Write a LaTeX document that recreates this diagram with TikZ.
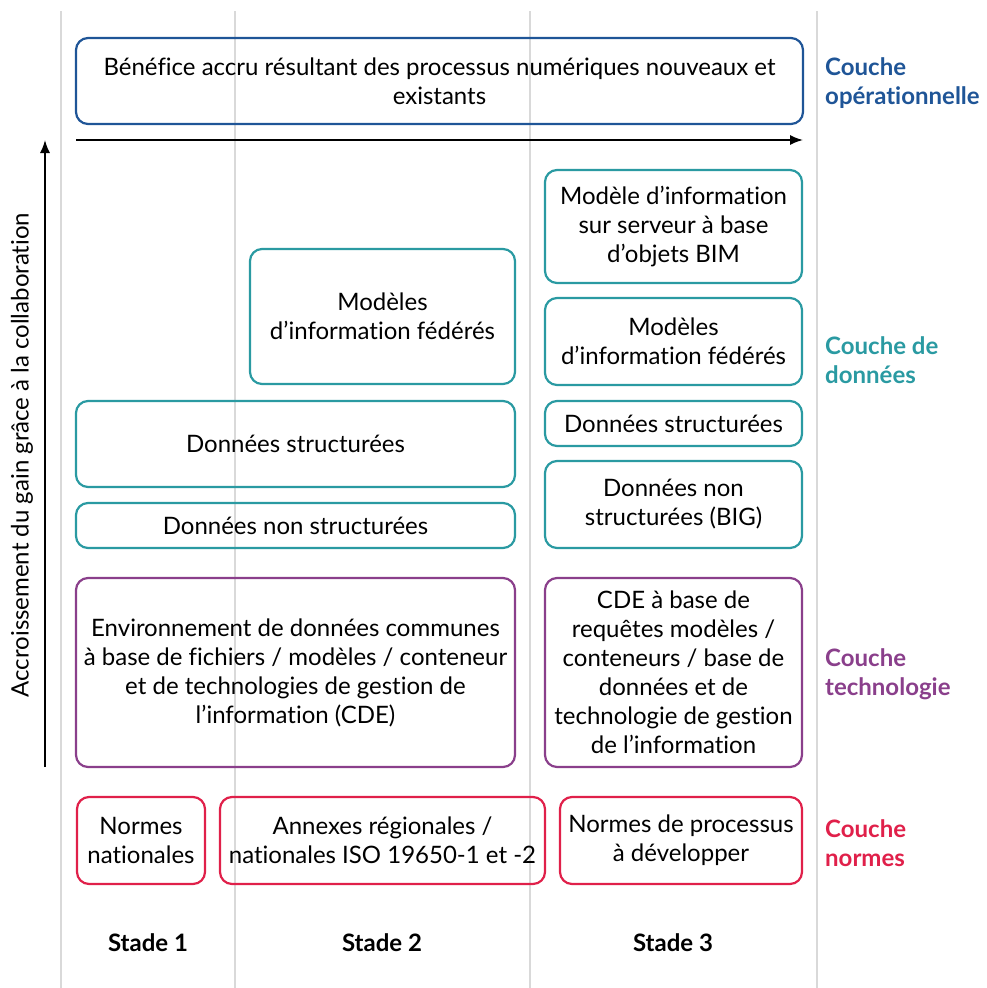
\documentclass[tikz,border=0pt]{standalone}
\usepackage{fontspec}
\setmainfont{Lato}[Ligatures=NoCommon]
\usetikzlibrary{arrows.meta}
\definecolor{opblue}{HTML}{1F5597}
\definecolor{datateal}{HTML}{2A9AA2}
\definecolor{techpurple}{HTML}{8A3F8B}
\definecolor{normred}{HTML}{E0204A}
\definecolor{gridgray}{HTML}{D9D9D9}
\begin{document}
\begin{tikzpicture}[x=1pt,y=-1pt,
  box/.style={draw, line width=2.2pt, rounded corners=12pt, align=center,
    font=\fontsize{24}{29}\selectfont, inner sep=1pt},
  opbox/.style={box, draw=opblue},
  databox/.style={box, draw=datateal},
  techbox/.style={box, draw=techpurple},
  normbox/.style={box, draw=normred},
  layer/.style={anchor=west, align=left, inner sep=0pt, font=\fontsize{24}{29}\selectfont\bfseries},
  stage/.style={font=\fontsize{24}{29}\selectfont\bfseries},
  divider/.style={draw=gridgray, line width=2.5pt},
  axis/.style={draw=black, line width=1.6pt, -{Latex[length=13pt,width=10pt]}}
]
\useasboundingbox (0,0) rectangle (986,988);

% column dividers
\foreach \x in {61,235,530,817}
  \draw[divider] (\x,11) -- (\x,988);

% operational layer
\node[opbox, minimum width=727pt, minimum height=86pt] (benefice) at (439.5,81)
  {Bénéfice accru résultant des processus numériques nouveaux et\\existants};

% axes
\coordinate (hstart) at (76,140);
\coordinate (hend) at (803,140);
\draw[axis] (hstart) -- (hend);
\coordinate (vstart) at (45,767);
\coordinate (vend) at (45,140);
\draw[axis] (vstart) -- (vend);
\node[rotate=90, font=\fontsize{24}{29}\selectfont] (gain) at (22,455)
  {Accroissement du gain grâce à la collaboration};

% data layer
\node[databox, minimum width=257pt, minimum height=113pt] (serveur) at (673.5,226.5)
  {Modèle d’information\\sur serveur à base\\d’objets BIM};
\node[databox, minimum width=265pt, minimum height=135pt] (federes2) at (382.5,316.5)
  {Modèles\\d’information fédérés};
\node[databox, minimum width=257pt, minimum height=87pt] (federes3) at (673.5,341.5)
  {Modèles\\d’information fédérés};
\node[databox, minimum width=439pt, minimum height=86pt] (struct12) at (295.5,444)
  {Données structurées};
\node[databox, minimum width=257pt, minimum height=45pt] (struct3) at (673.5,423.5)
  {Données structurées};
\node[databox, minimum width=439pt, minimum height=45pt] (nonstruct12) at (295.5,525.5)
  {Données non structurées};
\node[databox, minimum width=257pt, minimum height=87pt] (nonstruct3) at (673.5,504.5)
  {Données non\\structurées (BIG)};

% technology layer
\node[techbox, minimum width=439pt, minimum height=189pt] (cde12) at (295.5,672.5)
  {Environnement de données communes\\à base de fichiers / modèles / conteneur\\et de technologies de gestion de\\l’information (CDE)};
\node[techbox, minimum width=257pt, minimum height=189pt] (cde3) at (673.5,672.5)
  {CDE à base de\\requêtes modèles /\\conteneurs / base de\\données et de\\technologie de gestion\\de l’information};

% standards layer
\node[normbox, minimum width=128pt, minimum height=87pt] (nationales) at (141,840.5)
  {Normes\\nationales};
\node[normbox, minimum width=325pt, minimum height=87pt] (annexes) at (382.5,840.5)
  {Annexes régionales /\\nationales ISO 19650-1 et -2};
\node[normbox, minimum width=242pt, minimum height=87pt] (processus) at (681,840.5)
  {Normes de processus\\à développer};

% stages
\node[stage] (stade1) at (148,943) {Stade 1};
\node[stage] (stade2) at (382,943) {Stade 2};
\node[stage] (stade3) at (673,943) {Stade 3};

% layer names
\node[layer, text=opblue] (lop) at (825,83.5) {Couche\\opérationnelle};
\node[layer, text=datateal] (ldata) at (825,360.5) {Couche de\\données};
\node[layer, text=techpurple] (ltech) at (825,674.5) {Couche\\technologie};
\node[layer, text=normred] (lnorm) at (825,843) {Couche\\normes};
\end{tikzpicture}
\end{document}
